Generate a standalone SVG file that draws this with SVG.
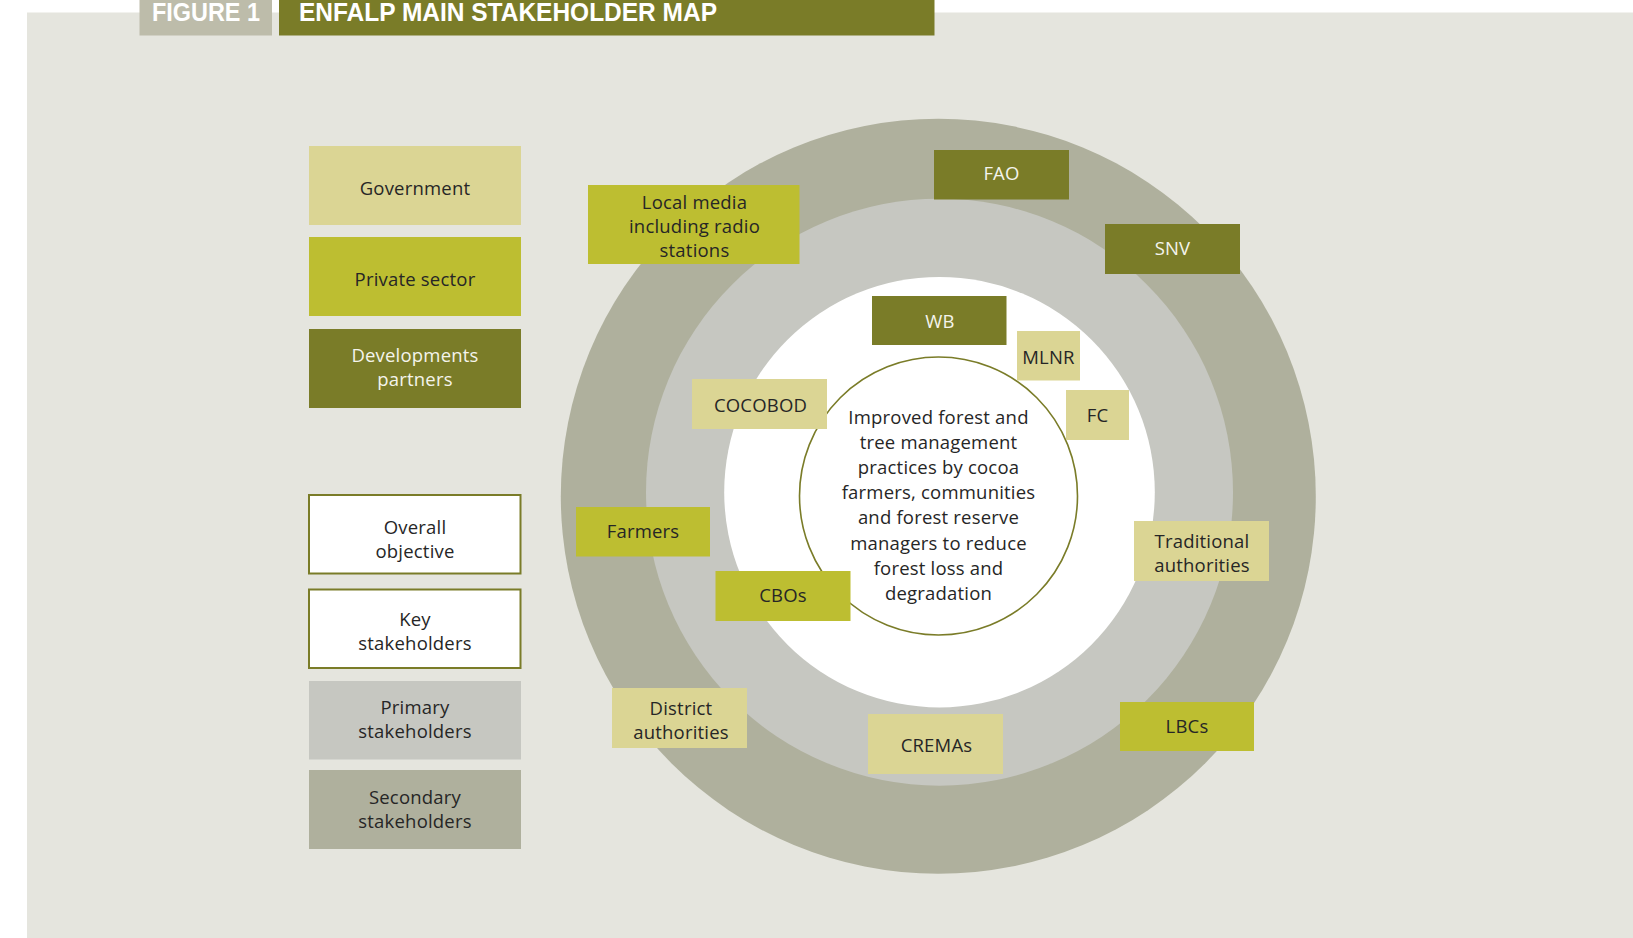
<svg xmlns="http://www.w3.org/2000/svg" width="1633" height="938" viewBox="0 0 1633 938">
  <style>
    .lbl { font-family: "Open Sans", "Liberation Sans", sans-serif; font-size: 18.5px; fill: #262626; text-anchor: middle; letter-spacing: 0.2px; }
    .lbl.inv { fill: #f4f4ec; }
    .head { font-family: "Liberation Sans", "DejaVu Sans", sans-serif; font-weight: bold; font-size: 25px; fill: #ffffff; }
    .gov { fill: #dbd594; }
    .priv { fill: #bdbe31; }
    .dev { fill: #7a7c28; }
    .key { fill: #ffffff; stroke: #7a7c28; stroke-width: 2; }
    .prim { fill: #c6c7c1; }
    .sec { fill: #afb09d; }
  </style>

  <!-- page panel -->
  <rect x="0" y="0" width="1633" height="938" fill="#ffffff"/>
  <rect x="27" y="12.5" width="1606" height="925.5" fill="#e5e5de"/>

  <!-- heading -->
  <g id="heading">
    <rect x="139.5" y="0" width="132.5" height="35.5" fill="#bdbcaa"/>
    <rect x="279" y="0" width="655.5" height="35.5" fill="#7a7c28"/>
    <text class="head" x="152" y="20.5" textLength="108" lengthAdjust="spacingAndGlyphs">FIGURE 1</text>
    <text class="head" x="299" y="20.5" textLength="418" lengthAdjust="spacingAndGlyphs">ENFALP MAIN STAKEHOLDER MAP</text>
  </g>

  <!-- legend -->
  <g id="legend-government">
    <rect class="gov" x="309" y="146" width="212" height="79"/>
    <text class="lbl" x="415" y="194.5">Government</text>
  </g>
  <g id="legend-private-sector">
    <rect class="priv" x="309" y="237" width="212" height="79"/>
    <text class="lbl" x="415" y="286">Private sector</text>
  </g>
  <g id="legend-development-partners">
    <rect class="dev" x="309" y="329" width="212" height="79"/>
    <text class="lbl inv" x="415" y="362">Developments</text>
    <text class="lbl inv" x="415" y="386">partners</text>
  </g>
  <g id="legend-overall-objective">
    <rect class="key" x="309" y="495" width="211.5" height="78.5"/>
    <text class="lbl" x="415" y="533.5">Overall</text>
    <text class="lbl" x="415" y="557.5">objective</text>
  </g>
  <g id="legend-key-stakeholders">
    <rect class="key" x="309" y="589.5" width="211.5" height="78.5"/>
    <text class="lbl" x="415" y="625.5">Key</text>
    <text class="lbl" x="415" y="649.5">stakeholders</text>
  </g>
  <g id="legend-primary-stakeholders">
    <rect class="prim" x="309" y="681" width="212" height="78.5"/>
    <text class="lbl" x="415" y="714">Primary</text>
    <text class="lbl" x="415" y="738">stakeholders</text>
  </g>
  <g id="legend-secondary-stakeholders">
    <rect class="sec" x="309" y="770" width="212" height="79"/>
    <text class="lbl" x="415" y="803.5">Secondary</text>
    <text class="lbl" x="415" y="827.5">stakeholders</text>
  </g>

  <!-- concentric rings -->
  <g id="rings">
    <circle cx="938.3" cy="496.3" r="377.5" fill="#afb09d"/>
    <circle cx="939.5" cy="492.2" r="293.5" fill="#c6c7c1"/>
    <circle cx="939.5" cy="492.2" r="215.3" fill="#ffffff"/>
  </g>

  <!-- central objective -->
  <g id="objective">
    <circle cx="938.5" cy="496" r="139" fill="#ffffff" stroke="#7a7c28" stroke-width="1.6"/>
    <text class="lbl" x="938.5" y="423.5">Improved forest and</text>
    <text class="lbl" x="938.5" y="448.7">tree management</text>
    <text class="lbl" x="938.5" y="473.9">practices by cocoa</text>
    <text class="lbl" x="938.5" y="499.1">farmers, communities</text>
    <text class="lbl" x="938.5" y="524.3">and forest reserve</text>
    <text class="lbl" x="938.5" y="549.5">managers to reduce</text>
    <text class="lbl" x="938.5" y="574.7">forest loss and</text>
    <text class="lbl" x="938.5" y="599.9">degradation</text>
  </g>

  <!-- stakeholders -->
  <g id="fao">
    <rect class="dev" x="934" y="150" width="135" height="49.5"/>
    <text class="lbl inv" x="1001.5" y="180">FAO</text>
  </g>
  <g id="snv">
    <rect class="dev" x="1105" y="224" width="135" height="50"/>
    <text class="lbl inv" x="1172.5" y="255">SNV</text>
  </g>
  <g id="local-media">
    <rect class="priv" x="588" y="185" width="211.5" height="79"/>
    <text class="lbl" x="694.5" y="209">Local media</text>
    <text class="lbl" x="694.5" y="233">including radio</text>
    <text class="lbl" x="694.5" y="257">stations</text>
  </g>
  <g id="wb">
    <rect class="dev" x="872" y="296" width="134.5" height="49"/>
    <text class="lbl inv" x="940" y="328">WB</text>
  </g>
  <g id="mlnr">
    <rect class="gov" x="1017" y="331" width="63" height="49.5"/>
    <text class="lbl" x="1048.5" y="364">MLNR</text>
  </g>
  <g id="fc">
    <rect class="gov" x="1066" y="390" width="63" height="50"/>
    <text class="lbl" x="1097.5" y="422">FC</text>
  </g>
  <g id="cocobod">
    <rect class="gov" x="692" y="379" width="135" height="50"/>
    <text class="lbl" x="760.5" y="412">COCOBOD</text>
  </g>
  <g id="farmers">
    <rect class="priv" x="576" y="507" width="134" height="49.5"/>
    <text class="lbl" x="643" y="538">Farmers</text>
  </g>
  <g id="cbos">
    <rect class="priv" x="715.5" y="571" width="135" height="50"/>
    <text class="lbl" x="783" y="602">CBOs</text>
  </g>
  <g id="traditional-authorities">
    <rect class="gov" x="1134" y="521" width="135" height="60"/>
    <text class="lbl" x="1202" y="548">Traditional</text>
    <text class="lbl" x="1202" y="572">authorities</text>
  </g>
  <g id="district-authorities">
    <rect class="gov" x="612" y="688" width="135" height="60"/>
    <text class="lbl" x="681" y="715">District</text>
    <text class="lbl" x="681" y="739">authorities</text>
  </g>
  <g id="cremas">
    <rect class="gov" x="868" y="714" width="135" height="60"/>
    <text class="lbl" x="936.5" y="752">CREMAs</text>
  </g>
  <g id="lbcs">
    <rect class="priv" x="1120" y="702" width="134" height="49"/>
    <text class="lbl" x="1187" y="733">LBCs</text>
  </g>
</svg>
